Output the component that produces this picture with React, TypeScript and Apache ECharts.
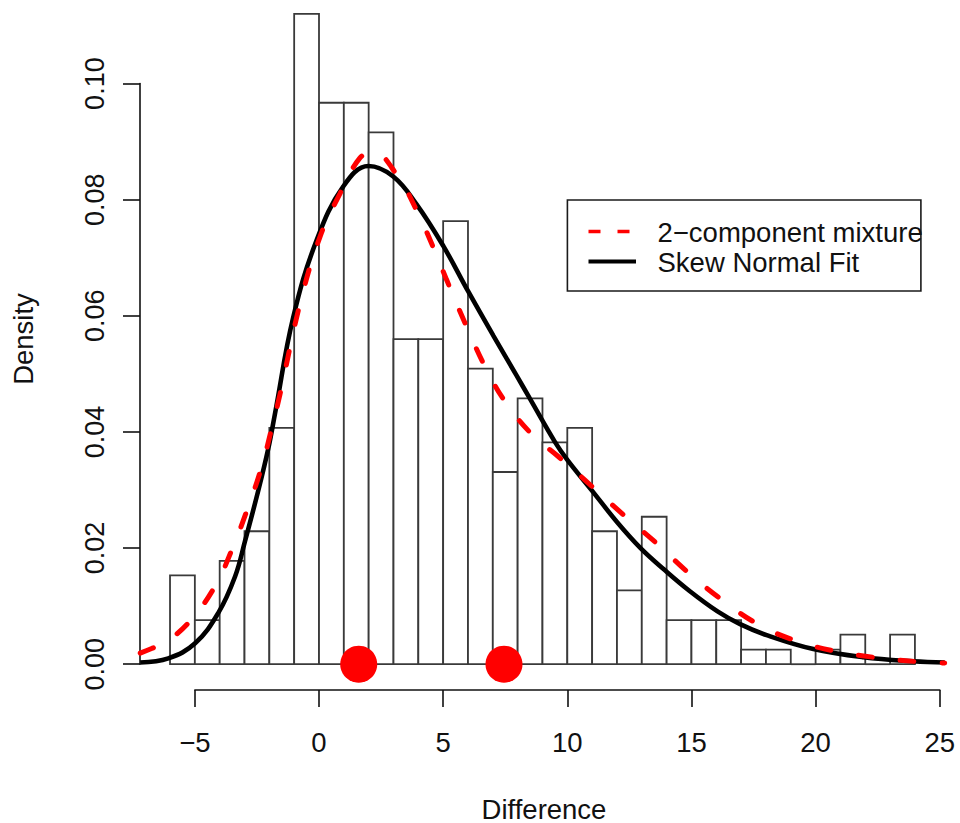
import React, { useEffect, useRef } from "react";
import * as echarts from "echarts";

// ---- data ----
const binStarts = [-6, -5, -4, -3, -2, -1, 0, 1, 2, 3, 4, 5, 6, 7, 8, 9, 10, 11, 12, 13, 14, 15, 16, 17, 18, 19, 20, 21, 22, 23];
const binWidth = 1;
const densities = [
  0.0153, 0.0076, 0.0178, 0.0229, 0.0407, 0.1120, 0.0967, 0.0967, 0.0916, 0.0560,
  0.0560, 0.0763, 0.0509, 0.0331, 0.0458, 0.0382, 0.0407, 0.0229, 0.0127, 0.0254,
  0.0076, 0.0076, 0.0076, 0.0025, 0.0025, 0.0, 0.0025, 0.0051, 0.0, 0.0051,
];

const skewX = [-7.2, -6.07, -4.99, -4.06, -3.38, -2.98, -2.44, -2.04, -1.77, -1.04, -0.09, 0.98, 1.99, 2.99, 3.93, 5.01, 6.01, 7.02, 7.96, 8.5, 9.5, 10.0, 11.05, 12.0, 12.95, 13.9, 14.9, 16.05, 16.96, 18.03, 19.91, 21.92, 23.93, 25.2];
const skewY = [0.0003, 0.001, 0.0036, 0.0088, 0.0151, 0.0212, 0.03, 0.0372, 0.0432, 0.0597, 0.0731, 0.0823, 0.0858, 0.084, 0.0792, 0.072, 0.0642, 0.0566, 0.0497, 0.0457, 0.0383, 0.0352, 0.0296, 0.0245, 0.02, 0.0163, 0.0127, 0.0091, 0.0069, 0.005, 0.0026, 0.0012, 0.0005, 0.0003];

const mixX = [-7.2, -6.74, -6.2, -5.2, -4.19, -3.52, -2.85, -2.31, -1.9, -1.57, -0.77, 0.04, 0.85, 1.65, 2.19, 3.13, 3.93, 4.6, 5.14, 5.95, 6.75, 7.5, 8.55, 9.6, 10.3, 11.1, 12.35, 13.6, 14.81, 16.1, 17.63, 19.1, 20.71, 22.32, 24.2, 25.2];
const mixY = [0.0019, 0.0027, 0.0037, 0.0074, 0.0134, 0.0196, 0.0271, 0.034, 0.0407, 0.0465, 0.062, 0.0736, 0.0811, 0.0872, 0.0882, 0.0843, 0.0782, 0.0718, 0.0662, 0.0581, 0.0507, 0.0452, 0.0397, 0.0359, 0.0333, 0.0302, 0.0254, 0.0208, 0.016, 0.0115, 0.007, 0.0042, 0.0023, 0.0012, 0.0004, 0.0002];

const componentMeans = [1.6, 7.45];

const legendLabels = ["2\u2212component mixture", "Skew Normal Fit"];
const xTitle = "Difference";
const yTitle = "Density";

// ---- layout ----
const FONT = '"Liberation Sans", Arial, Helvetica, sans-serif';
const PX0 = 319; // pixel of x = 0
const PXU = 24.83; // pixels per x unit
const X_MIN = -7.2;
const X_MAX = 25.2;
const Y0 = 664.2; // pixel of density 0
const PYU = 5806; // pixels per density unit
const PLOT_BOTTOM = 690.2;

export default function App() {
  const ref = useRef<HTMLDivElement>(null);

  useEffect(() => {
    if (!ref.current) return;
    const chart = echarts.init(ref.current, null, { renderer: "svg" });

    const yMinMain = -(PLOT_BOTTOM - Y0) / PYU;
    const yMaxMain = Y0 / PYU;

    const histData = binStarts.map((s, i) => [s, s + binWidth, densities[i]]);

    const option: any = {
      animation: false,
      backgroundColor: "#ffffff",
      grid: [
        { left: PX0 + X_MIN * PXU, top: 0, width: (X_MAX - X_MIN) * PXU, height: PLOT_BOTTOM },
        { left: PX0 - 5 * PXU, top: 600, width: 30 * PXU, height: 90 },
        { left: 140, top: Y0 - 0.1 * PYU, width: 10, height: 0.1 * PYU },
      ],
      xAxis: [
        { gridIndex: 0, type: "value", min: X_MIN, max: X_MAX, show: false },
        {
          gridIndex: 1,
          type: "value",
          min: -5,
          max: 25,
          interval: 5,
          position: "bottom",
          axisLine: { show: true, lineStyle: { color: "#111", width: 1.6 } },
          axisTick: { show: true, inside: false, length: 17, lineStyle: { color: "#111", width: 1.6 } },
          axisLabel: {
            show: true,
            fontSize: 27.5,
            fontFamily: FONT,
            color: "#111",
            margin: 38,
            formatter: (v: number) => String(v).replace("-", "\u2212"),
          },
          splitLine: { show: false },
        },
        { gridIndex: 2, type: "value", min: 0, max: 1, show: false },
      ],
      yAxis: [
        { gridIndex: 0, type: "value", min: yMinMain, max: yMaxMain, show: false },
        { gridIndex: 1, type: "value", min: 0, max: 1, show: false },
        {
          gridIndex: 2,
          type: "value",
          min: 0,
          max: 0.1,
          interval: 0.02,
          position: "left",
          axisLine: { show: true, lineStyle: { color: "#111", width: 1.6 } },
          axisTick: { show: true, inside: false, length: 17, lineStyle: { color: "#111", width: 1.6 } },
          axisLabel: {
            show: true,
            rotate: 90,
            fontSize: 27,
            fontFamily: FONT,
            color: "#111",
            margin: 32,
            formatter: (v: number) => v.toFixed(2),
          },
          splitLine: { show: false },
        },
      ],
      series: [
        {
          type: "custom",
          name: "hist",
          xAxisIndex: 0,
          yAxisIndex: 0,
          data: histData,
          z: 1,
          clip: false,
          renderItem: (params: any, api: any) => {
            const x0 = api.value(0);
            const x1 = api.value(1);
            const h = api.value(2);
            const p0 = api.coord([x0, h]);
            const p1 = api.coord([x1, 0]);
            if (p1[1] - p0[1] < 0.5) {
              return {
                type: "line",
                shape: { x1: p0[0], y1: p1[1], x2: p1[0], y2: p1[1] },
                style: { stroke: "#3a3a3a", lineWidth: 1.8 },
              };
            }
            return {
              type: "rect",
              shape: { x: p0[0], y: p0[1], width: p1[0] - p0[0], height: p1[1] - p0[1] },
              style: { fill: "#ffffff", stroke: "#3a3a3a", lineWidth: 1.8 },
            };
          },
        },
        {
          type: "line",
          name: legendLabels[1],
          xAxisIndex: 0,
          yAxisIndex: 0,
          data: skewX.map((x, i) => [x, skewY[i]]),
          showSymbol: false,
          smooth: 0.4,
          z: 2,
          lineStyle: { color: "#000000", width: 4.6 },
        },
        {
          type: "line",
          name: legendLabels[0],
          xAxisIndex: 0,
          yAxisIndex: 0,
          data: mixX.map((x, i) => [x, mixY[i]]),
          showSymbol: false,
          smooth: 0.4,
          z: 3,
          lineStyle: { color: "#ff0000", width: 5, type: [14, 28], cap: "round" },
        },
        {
          type: "scatter",
          name: "means",
          xAxisIndex: 0,
          yAxisIndex: 0,
          data: componentMeans.map((m) => [m, 0]),
          symbol: "circle",
          symbolSize: 37,
          clip: false,
          z: 4,
          itemStyle: { color: "#ff0000", opacity: 1 },
        },
      ],
      graphic: [
        {
          type: "text",
          x: 23,
          y: 339,
          rotation: Math.PI / 2,
          style: { text: yTitle, fontSize: 27.5, fontFamily: FONT, fill: "#111", align: "center", verticalAlign: "middle" },
        },
        {
          type: "text",
          x: 544,
          y: 809,
          style: { text: xTitle, fontSize: 27.5, fontFamily: FONT, fill: "#111", align: "center", verticalAlign: "middle" },
        },
        {
          type: "rect",
          shape: { x: 567.4, y: 200, width: 353.5, height: 91 },
          style: { fill: "#ffffff", stroke: "#1a1a1a", lineWidth: 1.6 },
          z: 10,
        },
        {
          type: "line",
          shape: { x1: 588.5, y1: 231.5, x2: 630, y2: 231.5 },
          style: { stroke: "#ff0000", lineWidth: 3.4, lineDash: [12, 17] },
          z: 11,
        },
        {
          type: "line",
          shape: { x1: 588.5, y1: 261.5, x2: 636, y2: 261.5 },
          style: { stroke: "#000000", lineWidth: 4 },
          z: 11,
        },
        {
          type: "text",
          x: 657.5,
          y: 232,
          z: 11,
          style: { text: legendLabels[0], fontSize: 27.5, fontFamily: FONT, fill: "#111", align: "left", verticalAlign: "middle" },
        },
        {
          type: "text",
          x: 657.5,
          y: 262,
          z: 11,
          style: { text: legendLabels[1], fontSize: 27.5, fontFamily: FONT, fill: "#111", align: "left", verticalAlign: "middle" },
        },
      ],
    };

    chart.setOption(option);
    return () => chart.dispose();
  }, []);

  return (
    <div
      ref={ref}
      style={{ position: "absolute", left: 0, top: 0, width: 960, height: 823, background: "#fff" }}
    />
  );
}
